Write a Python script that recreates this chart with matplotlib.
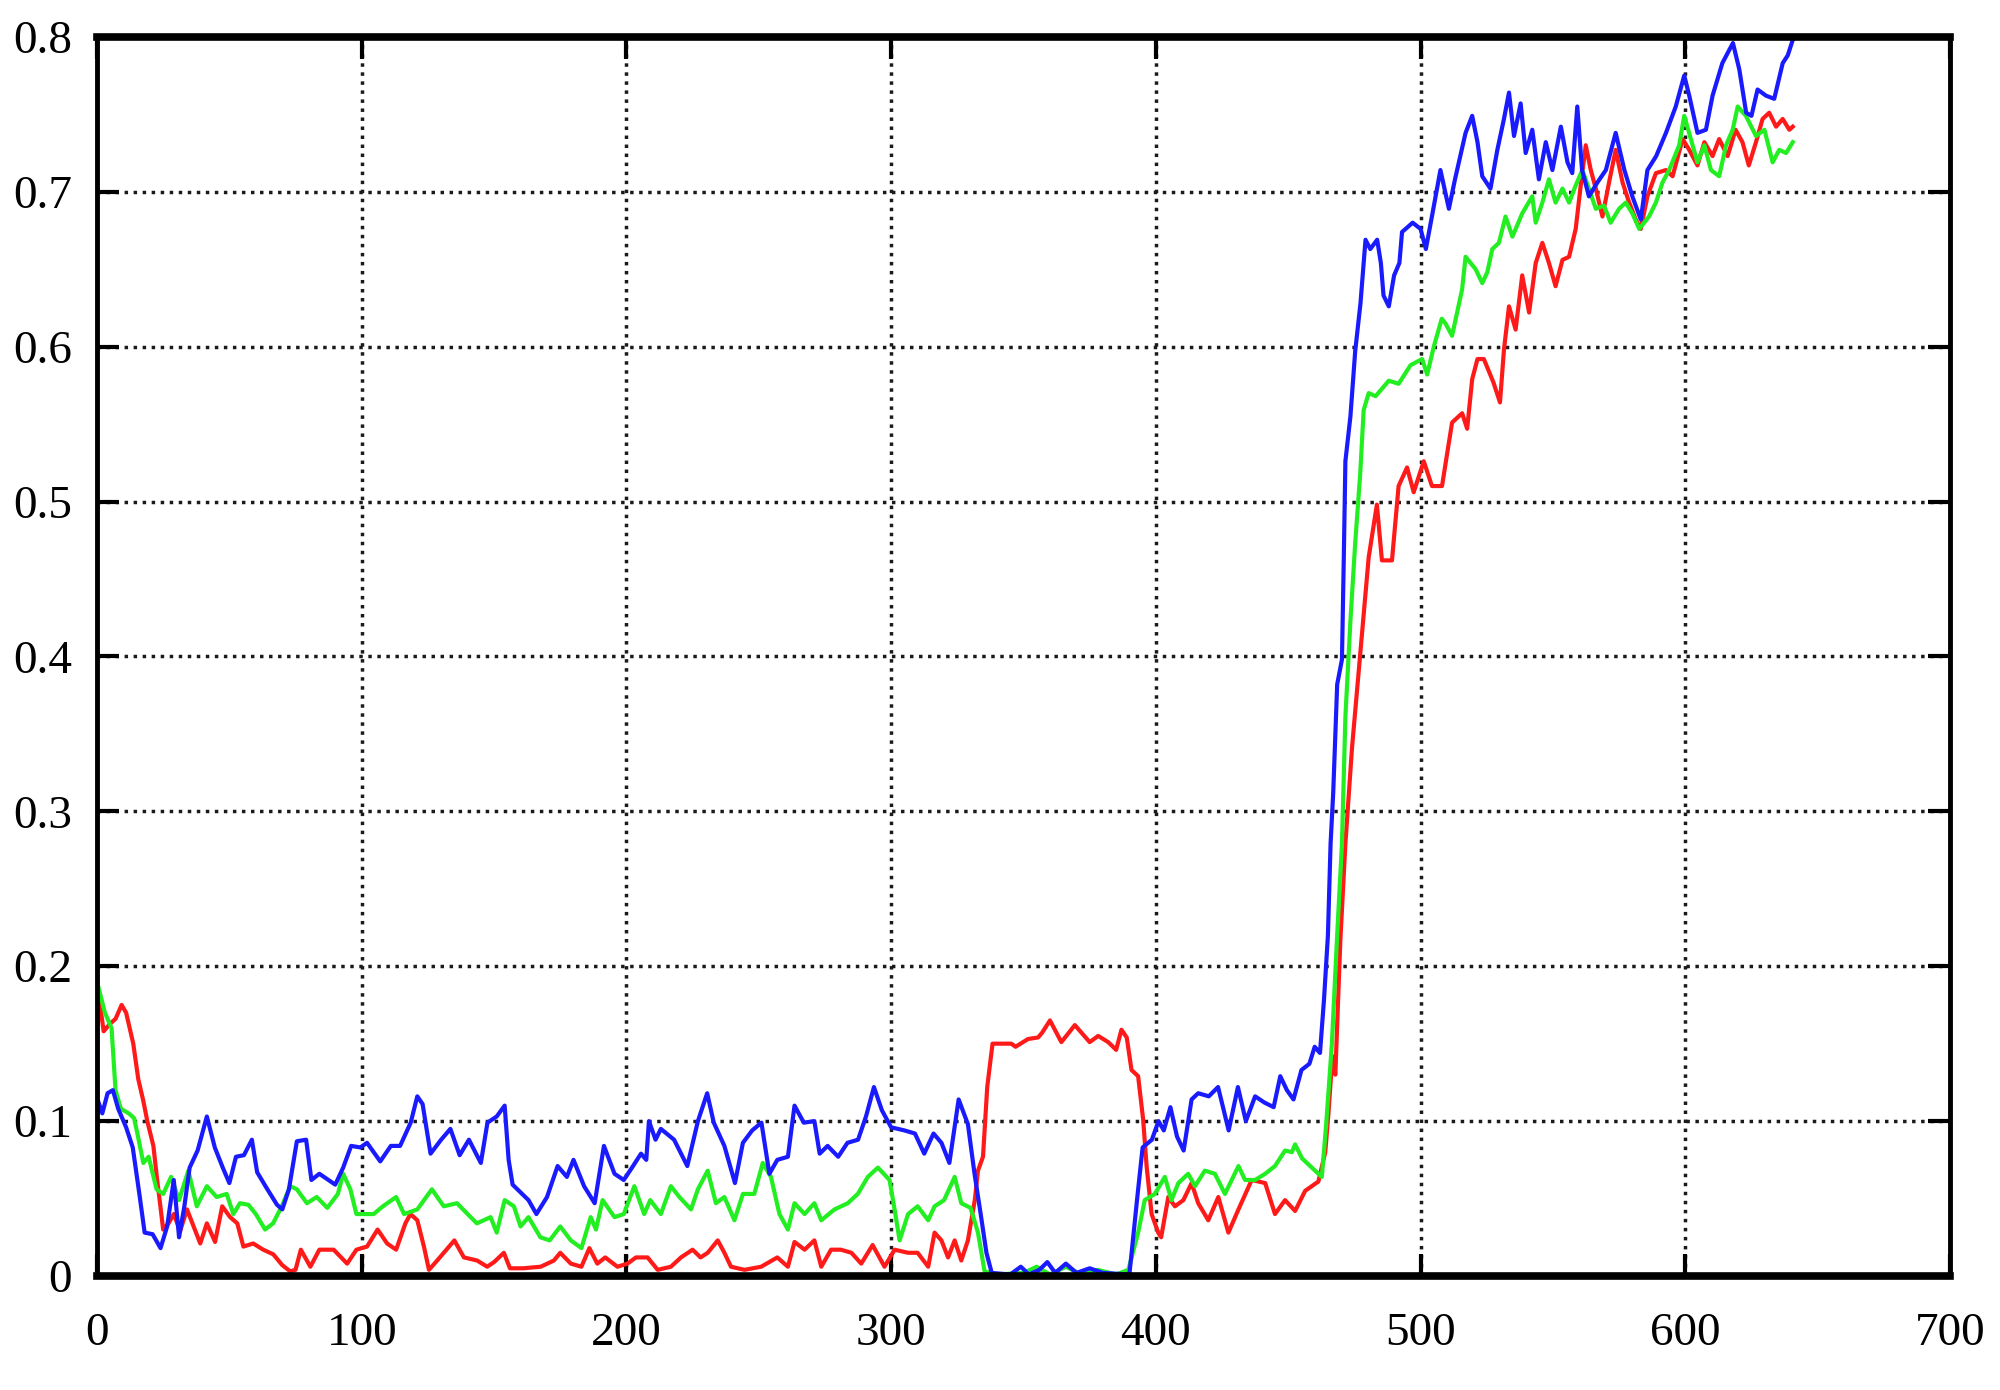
import matplotlib
matplotlib.use("Agg")
import matplotlib.pyplot as plt

# ---------------- data ----------------
blue_x = [0, 2, 4, 6, 8, 11, 13.5, 16, 18, 21, 24, 26.5, 29, 31, 33, 35, 38, 41.5, 44.5, 47.5,
          50, 52.5, 55.5, 58.5, 60.5, 64, 68, 70, 72.5, 75.5, 79, 81, 84, 90, 93, 96, 99.5, 102, 107, 111,
          114.5, 118.5, 121, 123, 126, 130, 133.5, 137, 140.5, 145, 147.5, 151, 154, 155.5, 157, 160, 163, 166, 170, 174,
          177.5, 180, 184, 188, 191.5, 195.5, 199, 202.5, 205.5, 207.5, 208.5, 211, 213, 218, 223, 227, 230.5, 233, 237, 241,
          244, 247.5, 251, 254, 257, 261, 263.5, 267, 271, 273, 276, 280, 283.5, 287.5, 290.5, 293.5, 296.5, 300, 305, 309,
          312.5, 316, 319, 322, 325.5, 329, 331.5, 334, 336, 338, 345, 349, 352, 356, 359, 362, 366, 370, 375, 380,
          390, 393, 395, 398.5, 401, 403, 405.5, 408, 410.5, 413.5, 416, 420, 423.5, 427.5, 431, 434, 437.5, 441, 444.5, 447,
          449.5, 452, 455, 458, 460, 462, 463.5, 465, 466, 467, 468.5, 470.3, 471, 471.6, 473.5, 475.3, 477.3, 479.2, 481, 483.6,
          485, 486, 488, 490, 492, 493, 497, 500, 502, 504.5, 507.5, 510.7, 513, 517, 519.5, 521.5, 523.3, 526.4, 529, 531.5,
          533.4, 535.3, 537.8, 539.7, 542.2, 544.7, 547.3, 549.8, 553, 555.5, 557.3, 559.2, 561, 563.6, 566.8, 570, 573.7, 577, 580, 583.2,
          585.7, 589, 592.7, 596.4, 599.6, 601.5, 604.6, 607.8, 610.3, 614, 618, 620.4, 623, 625, 627.3, 630.5, 633.6, 636.8, 638.7, 640.6]
blue_y = [0.115, 0.105, 0.118, 0.12, 0.108, 0.096, 0.083, 0.053, 0.028, 0.027, 0.018, 0.032, 0.062, 0.025, 0.045, 0.07, 0.081, 0.103, 0.083, 0.07,
          0.06, 0.077, 0.078, 0.088, 0.067, 0.057, 0.046, 0.043, 0.056, 0.087, 0.088, 0.062, 0.066, 0.059, 0.07, 0.084, 0.083, 0.086, 0.074, 0.084,
          0.084, 0.099, 0.116, 0.111, 0.079, 0.088, 0.095, 0.078, 0.088, 0.073, 0.099, 0.103, 0.11, 0.075, 0.059, 0.054, 0.049, 0.04, 0.051, 0.071,
          0.064, 0.075, 0.058, 0.047, 0.084, 0.066, 0.062, 0.071, 0.079, 0.075, 0.1, 0.088, 0.095, 0.088, 0.071, 0.1, 0.118, 0.099, 0.084, 0.06,
          0.086, 0.094, 0.099, 0.066, 0.075, 0.077, 0.11, 0.099, 0.1, 0.079, 0.084, 0.077, 0.086, 0.088, 0.103, 0.122, 0.107, 0.096, 0.094, 0.092,
          0.079, 0.092, 0.086, 0.073, 0.114, 0.098, 0.066, 0.038, 0.015, 0.002, 0.001, 0.006, 0.001, 0.004, 0.009, 0.002, 0.008, 0.002, 0.005, 0.002,
          0.001, 0.051, 0.083, 0.088, 0.1, 0.094, 0.109, 0.09, 0.081, 0.114, 0.118, 0.116, 0.122, 0.094, 0.122, 0.1, 0.116, 0.112, 0.109, 0.129,
          0.12, 0.114, 0.133, 0.137, 0.148, 0.144, 0.178, 0.22, 0.279, 0.312, 0.382, 0.398, 0.464, 0.526, 0.555, 0.597, 0.628, 0.669, 0.663, 0.669,
          0.654, 0.633, 0.626, 0.646, 0.654, 0.674, 0.68, 0.676, 0.663, 0.686, 0.714, 0.689, 0.708, 0.738, 0.749, 0.732, 0.71, 0.702, 0.727, 0.747,
          0.764, 0.736, 0.757, 0.725, 0.74, 0.708, 0.732, 0.714, 0.742, 0.719, 0.712, 0.755, 0.714, 0.697, 0.706, 0.714, 0.738, 0.714, 0.697, 0.682,
          0.714, 0.723, 0.738, 0.755, 0.775, 0.762, 0.738, 0.74, 0.762, 0.783, 0.796, 0.779, 0.751, 0.749, 0.766, 0.762, 0.76, 0.783, 0.788, 0.798]

green_x = [0, 3, 5.5, 7, 9, 12, 14, 15.5, 17.5, 19.5, 22.5, 25, 28, 31, 34.5, 37.7, 41.5, 45.2, 49, 51.5,
           54, 57.2, 60, 63.5, 66.5, 69.8, 73, 75.5, 79.3, 83, 87, 91, 93, 95.7, 98, 104.5, 108, 113, 116, 121,
           126.5, 131, 136, 140, 143.5, 148.7, 151, 154, 157.5, 160, 163, 167.5, 171, 175, 179, 183, 186.5, 188.5, 191, 195.5,
           199, 203, 206.7, 209, 213, 216.8, 220, 224.4, 227, 230.7, 233.8, 237, 240.8, 244, 248.3, 251.5, 254.6, 257.8, 261, 263.5,
           267.3, 271, 273.6, 278.6, 283.6, 287.4, 291.2, 295, 299.4, 301.3, 303.2, 306.4, 310, 314, 316.4, 320, 324, 326.5, 330, 332.8,
           335.3, 340, 350, 355, 360, 366, 372, 378, 385, 389.6, 393.3, 395.8, 399.6, 403.4, 405.9, 408.5, 412.2, 414.8, 418.5, 422.3,
           426.1, 431.2, 433.7, 437.5, 441.3, 445, 448.8, 451.4, 452.6, 455.2, 458.9, 461.4, 462.7, 464.3, 466.5, 468.4, 470.3, 471.6, 473.5, 475.3,
           477.2, 478.5, 480.4, 483, 488, 491.7, 496.2, 500.6, 502.5, 505, 508, 509.4, 511.9, 515.7, 517, 520.8, 523.3, 525.2, 527.1, 529.6,
           532.1, 534.7, 538.4, 542.2, 543.5, 546, 548.5, 551, 553.6, 556.1, 558.6, 561.1, 563.6, 566.2, 569.3, 571.8, 575, 577.5, 580, 582.6,
           586.3, 588.9, 591.4, 593.9, 597.7, 599.6, 602.1, 604.6, 607.2, 609.7, 612.8, 615.4, 617.9, 619.8, 622.9, 626.7, 629.9, 633, 635.5, 638.1, 640.6]
green_y = [0.19, 0.17, 0.16, 0.12, 0.108, 0.105, 0.102, 0.09, 0.073, 0.077, 0.056, 0.053, 0.064, 0.049, 0.068, 0.045, 0.058, 0.051, 0.053, 0.04,
           0.047, 0.046, 0.04, 0.03, 0.034, 0.045, 0.058, 0.056, 0.047, 0.051, 0.044, 0.053, 0.066, 0.056, 0.04, 0.04, 0.045, 0.051, 0.04, 0.043,
           0.056, 0.045, 0.047, 0.04, 0.034, 0.038, 0.028, 0.049, 0.045, 0.032, 0.038, 0.025, 0.023, 0.032, 0.023, 0.018, 0.038, 0.03, 0.049, 0.038,
           0.04, 0.058, 0.04, 0.049, 0.04, 0.058, 0.051, 0.043, 0.056, 0.068, 0.047, 0.051, 0.036, 0.053, 0.053, 0.073, 0.064, 0.04, 0.03, 0.047,
           0.04, 0.047, 0.036, 0.043, 0.047, 0.053, 0.064, 0.07, 0.062, 0.043, 0.023, 0.04, 0.045, 0.036, 0.045, 0.049, 0.064, 0.047, 0.044, 0.028,
           0.003, 0.001, 0.002, 0.006, 0.001, 0.006, 0.001, 0.004, 0.001, 0.004, 0.028, 0.049, 0.053, 0.064, 0.049, 0.06, 0.066, 0.058, 0.068, 0.066,
           0.053, 0.071, 0.062, 0.062, 0.066, 0.071, 0.081, 0.08, 0.085, 0.076, 0.07, 0.066, 0.064, 0.097, 0.15, 0.217, 0.279, 0.361, 0.423, 0.473,
           0.518, 0.559, 0.57, 0.568, 0.578, 0.576, 0.588, 0.592, 0.582, 0.6, 0.618, 0.615, 0.607, 0.637, 0.658, 0.65, 0.641, 0.648, 0.663, 0.667,
           0.684, 0.671, 0.686, 0.697, 0.68, 0.693, 0.708, 0.693, 0.702, 0.693, 0.704, 0.714, 0.702, 0.689, 0.691, 0.68, 0.689, 0.693, 0.686, 0.676,
           0.684, 0.693, 0.706, 0.714, 0.73, 0.749, 0.734, 0.719, 0.73, 0.714, 0.71, 0.73, 0.74, 0.755, 0.749, 0.736, 0.74, 0.719, 0.727, 0.725, 0.732]

red_x = [0, 2.5, 5, 7, 9.3, 11, 13.7, 15.6, 17.5, 19, 21.3, 22.6, 23.8, 25, 27, 29, 31.4, 34, 36.5, 39,
         41.5, 44.6, 47.3, 50.3, 53, 55.3, 59, 62.8, 66.6, 70, 73, 75, 77, 80.6, 84, 89.4, 94.5, 98, 102, 106,
         109.6, 113, 116.5, 118.4, 121, 123.5, 125.4, 128.5, 131, 135, 138.6, 143.6, 147.4, 150, 153.7, 156, 161, 167.6, 172.6, 175,
         179, 183, 186, 189, 192, 196.6, 200.4, 203.6, 208, 211.8, 216.8, 220.6, 225, 228, 230.7, 234.5, 237, 239.5, 244.6, 250.9,
         257, 261, 263.5, 267.3, 271, 273.6, 277.3, 281, 285, 288.7, 293, 297.5, 301.3, 306.4, 310, 314, 316.4, 319, 321.5, 324,
         326.5, 329, 331.6, 332.8, 334.7, 336.3, 338.3, 345.4, 347, 351.7, 355.5, 357, 360, 364.3, 369.4, 375, 378.2, 382, 385, 387,
         389, 390.8, 393.3, 395.2, 396.5, 398.4, 400.9, 402, 404.7, 407.2, 410.4, 413.5, 416, 419.8, 423.6, 427.4, 431.2, 436.2, 441.3, 445,
         448.8, 452.6, 456.4, 461.4, 464, 465.2, 466.7, 467.8, 469.7, 471.6, 474.1, 476.6, 478.5, 480.4, 483.5, 485.4, 489.2, 491.7, 494.9, 497.4,
         501.2, 504.3, 508.1, 511.9, 515.7, 517.6, 519.5, 521.5, 523.9, 527.5, 530, 531.5, 533.4, 535.9, 538.4, 541, 543.5, 546, 548.5, 551,
         553.6, 556.1, 558.6, 560.5, 562.4, 564.3, 566.2, 568.7, 571.2, 573.7, 576.3, 578.8, 581.3, 583.2, 585.7, 588.9, 592.7, 595.2, 599, 601.5,
         604.6, 607.2, 610.3, 612.8, 616, 619, 621.6, 624, 626.7, 629.2, 631.7, 634.3, 636.8, 639.3, 640.6]
red_y = [0.19, 0.158, 0.163, 0.166, 0.175, 0.17, 0.15, 0.127, 0.113, 0.1, 0.084, 0.064, 0.047, 0.03, 0.034, 0.04, 0.029, 0.043, 0.032, 0.021,
         0.034, 0.022, 0.045, 0.038, 0.034, 0.019, 0.021, 0.017, 0.014, 0.007, 0.003, 0.004, 0.017, 0.006, 0.017, 0.017, 0.008, 0.017, 0.019, 0.03,
         0.021, 0.017, 0.034, 0.04, 0.036, 0.019, 0.004, 0.01, 0.015, 0.023, 0.012, 0.01, 0.006, 0.009, 0.015, 0.005, 0.005, 0.006, 0.01, 0.015,
         0.008, 0.006, 0.018, 0.008, 0.012, 0.006, 0.008, 0.012, 0.012, 0.004, 0.006, 0.012, 0.017, 0.012, 0.015, 0.023, 0.015, 0.006, 0.004, 0.006,
         0.012, 0.006, 0.022, 0.017, 0.023, 0.006, 0.017, 0.017, 0.015, 0.008, 0.02, 0.006, 0.017, 0.015, 0.015, 0.006, 0.028, 0.023, 0.012, 0.023,
         0.01, 0.023, 0.049, 0.068, 0.077, 0.122, 0.15, 0.15, 0.148, 0.153, 0.154, 0.157, 0.165, 0.151, 0.162, 0.151, 0.155, 0.151, 0.146, 0.159,
         0.154, 0.133, 0.129, 0.101, 0.071, 0.04, 0.028, 0.025, 0.051, 0.045, 0.049, 0.06, 0.047, 0.036, 0.051, 0.028, 0.043, 0.062, 0.06, 0.04,
         0.049, 0.042, 0.055, 0.061, 0.08, 0.105, 0.142, 0.13, 0.217, 0.279, 0.341, 0.39, 0.427, 0.464, 0.498, 0.462, 0.462, 0.51, 0.522, 0.506,
         0.526, 0.51, 0.51, 0.551, 0.557, 0.547, 0.579, 0.592, 0.592, 0.577, 0.564, 0.598, 0.626, 0.611, 0.646, 0.622, 0.654, 0.667, 0.654, 0.639,
         0.656, 0.658, 0.676, 0.704, 0.73, 0.714, 0.702, 0.684, 0.706, 0.727, 0.706, 0.693, 0.682, 0.676, 0.697, 0.712, 0.714, 0.71, 0.734, 0.727,
         0.717, 0.732, 0.723, 0.734, 0.723, 0.74, 0.732, 0.717, 0.732, 0.747, 0.751, 0.742, 0.747, 0.74, 0.742]

x_ticks = [0, 100, 200, 300, 400, 500, 600, 700]
y_ticks = [0, 0.1, 0.2, 0.3, 0.4, 0.5, 0.6, 0.7, 0.8]
y_labels = ["0", "0.1", "0.2", "0.3", "0.4", "0.5", "0.6", "0.7", "0.8"]

# ---------------- drawing ----------------
plt.rcParams["font.family"] = ["Liberation Serif", "DejaVu Serif"]

fig = plt.figure(figsize=(20, 13.9), dpi=100)
ax = fig.add_axes([0.0485, 0.082, 0.9265, 0.8915])

lw = 3.0
ax.plot(red_x, red_y, color="#ff1a1a", lw=lw, zorder=3)
ax.plot(green_x, green_y, color="#22ee22", lw=lw, zorder=3)
ax.plot(blue_x, blue_y, color="#1a1aff", lw=lw, zorder=4)

ax.set_xlim(0, 700)
ax.set_ylim(0, 0.8)
ax.set_xticks(x_ticks)
ax.set_xticklabels([str(v) for v in x_ticks])
ax.set_yticks(y_ticks)
ax.set_yticklabels(y_labels)

ax.grid(True, color="#1a1a1a", linestyle=(0, (1, 1.6)), linewidth=2.5)
ax.set_axisbelow(True)

ax.tick_params(axis="both", which="major", direction="in", length=16, width=3,
               top=True, right=True, labelsize=34, colors="black")
ax.tick_params(axis="x", pad=26)
ax.tick_params(axis="y", pad=18)

for side in ("left", "right"):
    ax.spines[side].set_linewidth(3.5)
for side in ("top", "bottom"):
    ax.spines[side].set_linewidth(5.5)
for s in ax.spines.values():
    s.set_color("black")
    s.set_zorder(5)

fig.savefig("out.png", dpi=100, facecolor="white")
